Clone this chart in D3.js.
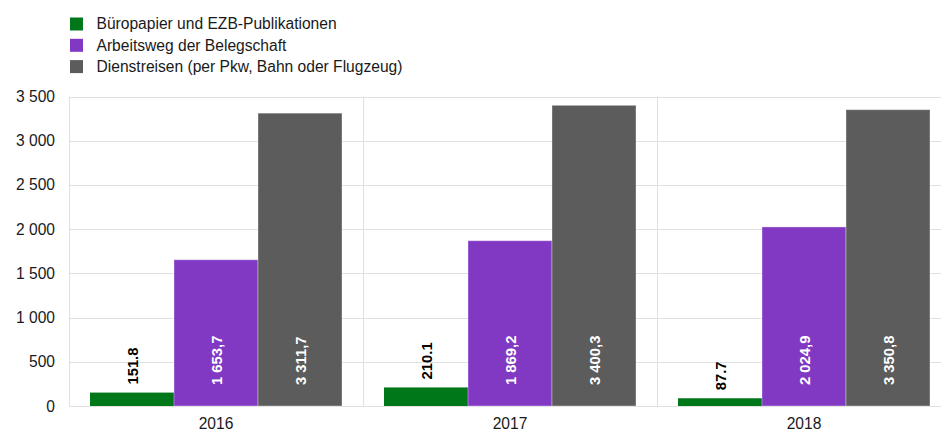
<!DOCTYPE html>
<html>
<head>
<meta charset="utf-8">
<script src="https://cdn.jsdelivr.net/npm/d3@7"></script>
<style>
  html, body { margin: 0; padding: 0; background: #fff; }
  svg { display: block; font-family: "Liberation Sans", Arial, sans-serif; }
</style>
</head>
<body>
<svg id="chart" width="941" height="432"></svg>
<script>
// CO2 emissions by source, per year
const years = ["2016", "2017", "2018"];
const seriesNames = [
  "Büropapier und EZB-Publikationen",
  "Arbeitsweg der Belegschaft",
  "Dienstreisen (per Pkw, Bahn oder Flugzeug)"
];
const paper = [151.8, 210.1, 87.7];
const commute = [1653.7, 1869.2, 2024.9];
const travel = [3311.7, 3400.3, 3350.8];
const yTicks = [0, 500, 1000, 1500, 2000, 2500, 3000, 3500];
const colors = ["#00781a", "#8139c4", "#5c5c5c"];

const values = [paper, commute, travel];

const de = d3.formatLocale({ decimal: ",", thousands: " ", grouping: [3], currency: ["", " €"] });
const fmtTick = de.format(",.0f");
const fmtInside = de.format(",.1f");
const fmtOutside = d3.format(".1f");

const svg = d3.select("#chart");
const plotLeft = 69, plotRight = 951, plotTop = 96.5, plotBottom = 406;
const textSize = 15.6, labelSize = 14.8;

const x = d3.scaleBand().domain(years).range([plotLeft, plotRight]).paddingInner(0).paddingOuter(0);
const xs = d3.scaleBand().domain(d3.range(seriesNames.length)).range([0, x.bandwidth()]).paddingInner(0).paddingOuter(0.25);
const y = d3.scaleLinear().domain([0, 3500]).range([plotBottom, plotTop]);

// grid
const grid = svg.append("g");
grid.selectAll("line.h").data(yTicks).join("line")
  .attr("x1", plotLeft).attr("x2", plotRight)
  .attr("y1", d => Math.round(y(d)) + 0.5).attr("y2", d => Math.round(y(d)) + 0.5)
  .attr("stroke", "#e0e0e0").attr("stroke-width", 1);
grid.selectAll("line.v").data(years.concat(["end"])).join("line")
  .attr("x1", d => Math.round(d === "end" ? plotRight : x(d)) + 0.5)
  .attr("x2", d => Math.round(d === "end" ? plotRight : x(d)) + 0.5)
  .attr("y1", plotTop).attr("y2", plotBottom)
  .attr("stroke", "#e0e0e0").attr("stroke-width", 1);

// y axis labels
const yAxis = d3.axisLeft(y).tickValues(yTicks).tickSize(0).tickPadding(0).tickFormat(fmtTick);
svg.append("g").attr("transform", `translate(${plotLeft - 14},0)`).call(yAxis)
  .call(g => g.select(".domain").remove())
  .call(g => g.selectAll("text").attr("font-size", textSize).attr("fill", "#1a1a1a")
    .attr("font-family", "Liberation Sans, Arial, sans-serif"));

// x axis labels
const xAxis = d3.axisBottom(x).tickSize(0).tickPadding(0);
svg.append("g").attr("transform", `translate(0,${plotBottom + 12})`).call(xAxis)
  .call(g => g.select(".domain").remove())
  .call(g => g.selectAll("text").attr("font-size", textSize).attr("fill", "#1a1a1a")
    .attr("font-family", "Liberation Sans, Arial, sans-serif"));

// bars
const data = [];
years.forEach((yr, i) => values.forEach((arr, s) => data.push({ yr, s, v: arr[i] })));

svg.append("g").selectAll("rect").data(data).join("rect")
  .attr("x", d => x(d.yr) + xs(d.s))
  .attr("width", xs.bandwidth())
  .attr("y", d => y(d.v))
  .attr("height", d => y(0) - y(d.v))
  .attr("fill", d => colors[d.s])
  .attr("stroke", d => d.s === 0 ? "none" : "rgba(255,255,255,0.35)")
  .attr("stroke-width", 1);

// value labels: paper values sit above the bar, the others inside near the base
svg.append("g").selectAll("text").data(data).join("text")
  .attr("transform", d => {
    const cx = x(d.yr) + xs(d.s) + xs.bandwidth() / 2;
    const ty = d.s === 0 ? y(d.v) - 8 : plotBottom - 21;
    return `translate(${cx + 5.5},${ty}) rotate(-90)`;
  })
  .attr("text-anchor", "start")
  .attr("font-size", labelSize)
  .attr("font-weight", "bold")
  .attr("fill", d => d.s === 0 ? "#000" : "#fff")
  .text(d => d.s === 0 ? fmtOutside(d.v) : fmtInside(d.v));

// legend
const legend = svg.append("g").attr("transform", "translate(70,0)");
const rows = legend.selectAll("g").data(seriesNames).join("g")
  .attr("transform", (d, i) => `translate(0,${24 + i * 21.3})`);
rows.append("rect").attr("x", 0).attr("y", -6.5).attr("width", 13).attr("height", 13)
  .attr("fill", (d, i) => colors[i]);
rows.append("text").attr("x", 26.5).attr("y", 0).attr("dy", "0.35em")
  .attr("font-size", textSize).attr("fill", "#1a1a1a").text(d => d);
</script>
</body>
</html>
